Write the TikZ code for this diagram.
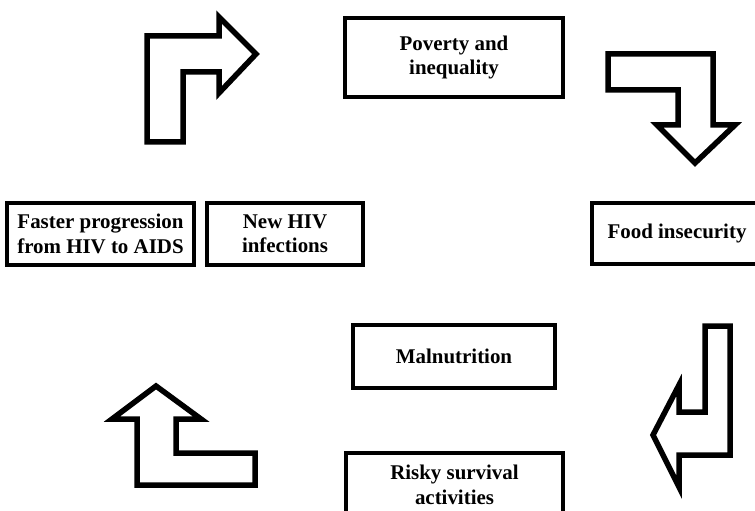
\documentclass[tikz,border=0pt]{standalone}
\usepackage{fontspec}
\setmainfont{Liberation Serif}
\usetikzlibrary{positioning}

\begin{document}
\begin{tikzpicture}[x=1bp, y=-1bp,
        cause/.style={rectangle, draw, line width=3.5bp, align=center, inner sep=0pt,
                      font=\bfseries\fontsize{21}{24.5}\selectfont},
        turn/.style={draw, line width=5.5bp, line join=miter},
    ]
        \useasboundingbox (0,0) rectangle (755,511);
        \clip (0,0) rectangle (755,511);

        \node[cause, minimum width=218bp, minimum height=79bp] (poverty) at (454,57.5) {Poverty and\\inequality};
        \node[cause, minimum width=170bp, minimum height=61bp] (food) at (677,233.5) {Food insecurity};
        \node[cause, minimum width=202bp, minimum height=63bp] (malnutrition) at (454,356.5) {Malnutrition};
        \node[cause, minimum width=217bp, minimum height=64bp] (risky) at (454.5,485) {Risky survival\\activities};
        \node[cause, minimum width=156bp, minimum height=62bp] (newhiv) at (285,234) {New HIV\\infections};
        \node[cause, minimum width=187bp, minimum height=62bp, left=9.5bp of newhiv] (faster) {Faster progression\\from HIV to AIDS};

        % block arrows round the cycle
        \draw[turn] (147,142) -- (147,36) -- (219,36) -- (219,17) -- (256,54) -- (219,93) -- (219,72) -- (183,72) -- (183,142) -- cycle;
        \draw[turn] (608,54) -- (713,54) -- (713,125) -- (735,125) -- (695,163) -- (657,125) -- (678,125) -- (678,90) -- (608,90) -- cycle;
        \draw[turn] (705,326) -- (730,326) -- (730,455) -- (679,455) -- (679,487) -- (653,435) -- (679,385) -- (679,412) -- (705,412) -- cycle;
        \draw[turn] (255,485) -- (137,485) -- (137,419) -- (112,419) -- (156,386) -- (201,419) -- (176,419) -- (176,453) -- (255,453) -- cycle;
    \end{tikzpicture}
\end{document}
